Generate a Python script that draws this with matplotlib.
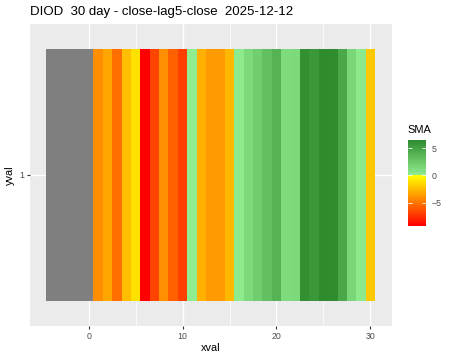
import numpy as np
import matplotlib
matplotlib.use("Agg")
import matplotlib.pyplot as plt
from matplotlib.colors import LinearSegmentedColormap, Normalize

plt.rcParams['font.family'] = ['Liberation Sans', 'DejaVu Sans']

# data
xval = list(range(-4, 31))
sma = [np.nan, np.nan, np.nan, np.nan, np.nan,
       -4.1, -3.25, -5.2, -2.3, -1.1, -9.2, -6.7, -4.1, -5.7, -6.9,
       0.1, -2.85, -3.65, -3.6, -2.55, 0.2, 1.3, 2.1, 3.05, 3.9,
       1.2, 1.3, 6.2, 5.7, 6.5, 6.4, 4.6, 1.5, 0.3, -2.0]
yval = [1]
title = "DIOD  30 day - close-lag5-close  2025-12-12"

W, H = 450, 360
fig = plt.figure(figsize=(W / 100, H / 100), dpi=100)
fig.patch.set_facecolor("white")

def px(l, t, r, b):
    return [l / W, 1 - b / H, (r - l) / W, (b - t) / H]

ax = fig.add_axes(px(30, 24, 391.5, 326))
ax.set_facecolor("#EBEBEB")

vals = np.array(sma, dtype=float)
vmin, vmax = np.nanmin(vals), np.nanmax(vals)
z = -vmin / (vmax - vmin)
cmap = LinearSegmentedColormap.from_list(
    "sma", [(0, "#FF0000"), (z, "#FFFF00"), (z + 1e-6, "#90EE90"), (1, "#2E8B2E")])
cmap.set_bad("#7F7F7F")
norm = Normalize(vmin=vmin, vmax=vmax)

xe = np.arange(xval[0] - 0.5, xval[-1] + 1.0, 1.0)
ye = np.array([yval[0] - 0.5, yval[0] + 0.5])
mesh = ax.pcolormesh(xe, ye, np.ma.masked_invalid(vals)[None, :], cmap=cmap, norm=norm, zorder=2)

span = xe[-1] - xe[0]
ax.set_xlim(xe[0] - 0.05 * span, xe[-1] + 0.05 * span)
ax.set_ylim(0.4, 1.6)
ax.set_xticks([0, 10, 20, 30])
ax.set_xticks([5, 15, 25], minor=True)
ax.set_yticks([1])
ax.set_yticklabels(["1"])
ax.grid(which="major", color="white", linewidth=1.0, zorder=0)
ax.grid(which="minor", color="white", linewidth=0.5, zorder=0)
ax.set_axisbelow(True)
for s in ax.spines.values():
    s.set_visible(False)
ax.tick_params(which="major", length=2.0, width=0.8, color="#333333",
               labelsize=6.3, labelcolor="#4D4D4D", pad=2)
ax.tick_params(which="minor", length=0)
ax.set_xlabel("xval", fontsize=7.9, labelpad=2)
ax.set_ylabel("yval", fontsize=7.9, labelpad=3)

fig.text(30 / W, 1 - 11.5 / H, title, fontsize=9.5, va="center", ha="left")

cax = fig.add_axes(px(407.7, 140, 425.7, 225.7))
cb = fig.colorbar(mesh, cax=cax, ticks=[-5, 0, 5])
cb.outline.set_visible(False)
cax.tick_params(direction="in", color="white", length=3, width=0.6,
                left=True, right=True, labelsize=6.3, labelcolor="#4D4D4D", pad=4)
fig.text(407 / W, 1 - 130 / H, "SMA", fontsize=7.9, va="center", ha="left")

fig.savefig("out.png", dpi=100)
